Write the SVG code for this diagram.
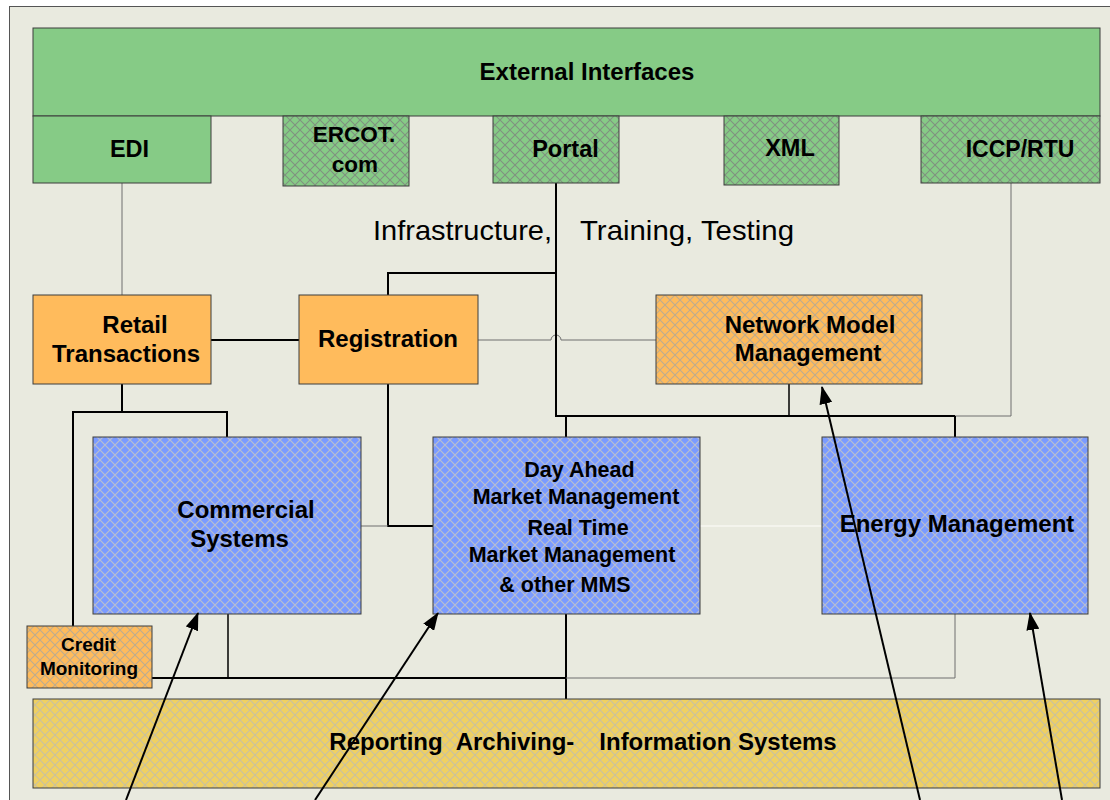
<svg xmlns="http://www.w3.org/2000/svg" width="1110" height="800" viewBox="0 0 1110 800">
<defs>
  <pattern id="hatchGreen" width="10" height="10" patternUnits="userSpaceOnUse">
    <rect width="10" height="10" fill="#86cb86"/>
    <path d="M0,0 L10,10 M10,0 L0,10" stroke="#7d7d7d" stroke-width="1.1" stroke-opacity="0.75"/>
  </pattern>
  <pattern id="hatchBlue" width="10" height="10" patternUnits="userSpaceOnUse">
    <rect width="10" height="10" fill="#7b9bff"/>
    <path d="M0,0 L10,10 M10,0 L0,10" stroke="#bfc2c9" stroke-width="1.2" stroke-opacity="0.9"/>
  </pattern>
  <pattern id="hatchOrange" width="10" height="10" patternUnits="userSpaceOnUse">
    <rect width="10" height="10" fill="#ffbb5c"/>
    <path d="M0,0 L10,10 M10,0 L0,10" stroke="#b0a898" stroke-width="1.1" stroke-opacity="0.85"/>
  </pattern>
  <pattern id="hatchYellow" width="10" height="10" patternUnits="userSpaceOnUse">
    <rect width="10" height="10" fill="#efd062"/>
    <path d="M0,0 L10,10 M10,0 L0,10" stroke="#c4bfa8" stroke-width="1.1" stroke-opacity="0.9"/>
  </pattern>
  <marker id="arrow" markerWidth="18" markerHeight="13" refX="17" refY="6.5" orient="auto" markerUnits="userSpaceOnUse">
    <path d="M0,0 L18,6.5 L0,13 Z" fill="#000"/>
  </marker>
</defs>
<style>
  .box { stroke: #3c3c3c; stroke-width: 1; }
  .green { fill: #86cb86; }
  .lbl { font-family: "Liberation Sans", Arial, sans-serif; font-weight: bold; fill: #000; text-anchor: middle; }
  .plain { font-family: "Liberation Sans", Arial, sans-serif; fill: #000; font-size: 28.5px; }
  .thick { stroke: #000; stroke-width: 2; fill: none; }
  .mid { stroke: #000; stroke-width: 1.5; fill: none; }
  .thin { stroke: #6e6e6e; stroke-width: 1; fill: none; }
  .pointer { stroke: #000; stroke-width: 2; fill: none; marker-end: url(#arrow); }
</style>
<rect x="0" y="0" width="1110" height="800" fill="#ffffff"/>
<rect x="9.5" y="6.5" width="1110" height="810" fill="#e9eadf" stroke="#555" stroke-width="1"/>

<g id="connectors">
  <path class="thin" d="M122,183 V295"/>
  <path class="thick" d="M211,340 H299"/>
  <path class="thin" d="M478,340 H551 A5,5 0 0 1 561,340 H656"/>
  <path class="thick" d="M388,295 V273 H556"/>
  <path class="thick" d="M556,183 V416 H955"/>
  <path class="thin" d="M955,416 H1011 V183"/>
  <path class="mid" d="M789,384 V416"/>
  <path class="thick" d="M566,416 V437"/>
  <path class="thick" d="M955,416 V437"/>
  <path class="thick" d="M122,384 V412"/>
  <path class="thick" d="M73,626 V412 H227 V437"/>
  <path class="thick" d="M388,384 V526 H433"/>
  <path class="thin" d="M361,526 H388"/>
  <path d="M700,526 H822" stroke="#f7f7f2" stroke-width="1.5" fill="none"/>
  <path class="mid" d="M228,614 V678"/>
  <path class="thick" d="M152,678 H566"/>
  <path class="thick" d="M566,614 V699"/>
  <path class="thin" d="M566,678 H955 V614"/>
</g>

<g id="external-interfaces">
  <rect class="box green" x="33" y="28" width="1067" height="88"/>
  <text class="lbl" x="587" y="80" font-size="24">External Interfaces</text>
</g>
<g id="edi">
  <rect class="box green" x="33" y="116" width="178" height="67"/>
  <text class="lbl" x="129.5" y="157" font-size="23.5">EDI</text>
</g>
<g id="ercot">
  <rect class="box" fill="url(#hatchGreen)" x="283" y="116" width="126" height="70"/>
  <text class="lbl" x="354" y="142" font-size="22.5">ERCOT.</text>
  <text class="lbl" x="355" y="172" font-size="22.5">com</text>
</g>
<g id="portal">
  <rect class="box" fill="url(#hatchGreen)" x="493" y="116" width="126" height="67"/>
  <text class="lbl" x="565.5" y="157" font-size="23.5">Portal</text>
</g>
<g id="xml">
  <rect class="box" fill="url(#hatchGreen)" x="724" y="116" width="115" height="69"/>
  <text class="lbl" x="790" y="156" font-size="23.5">XML</text>
</g>
<g id="iccp-rtu">
  <rect class="box" fill="url(#hatchGreen)" x="921" y="116" width="179" height="67"/>
  <text class="lbl" x="1020" y="157" font-size="23">ICCP/RTU</text>
</g>

<g id="infrastructure-label">
  <text class="plain" x="373" y="240" textLength="179" lengthAdjust="spacingAndGlyphs">Infrastructure,</text>
  <text class="plain" x="580" y="240" textLength="214" lengthAdjust="spacingAndGlyphs">Training, Testing</text>
</g>

<g id="retail-transactions">
  <rect class="box" fill="#ffbb5c" x="33" y="295" width="178" height="89"/>
  <text class="lbl" x="135" y="333" font-size="24">Retail</text>
  <text class="lbl" x="126" y="362" font-size="24">Transactions</text>
</g>
<g id="registration">
  <rect class="box" fill="#ffbb5c" x="299" y="295" width="179" height="89"/>
  <text class="lbl" x="388" y="347" font-size="24">Registration</text>
</g>
<g id="network-model-management">
  <rect class="box" fill="url(#hatchOrange)" x="656" y="295" width="266" height="89"/>
  <text class="lbl" x="810" y="333" font-size="24">Network Model</text>
  <text class="lbl" x="808" y="361" font-size="24">Management</text>
</g>

<g id="commercial-systems">
  <rect class="box" fill="url(#hatchBlue)" x="93" y="437" width="268" height="177"/>
  <text class="lbl" x="246" y="518" font-size="24">Commercial</text>
  <text class="lbl" x="239.5" y="547" font-size="24">Systems</text>
</g>
<g id="market-management">
  <rect class="box" fill="url(#hatchBlue)" x="433" y="437" width="267" height="177"/>
  <text class="lbl" x="579.5" y="477" font-size="21.5">Day Ahead</text>
  <text class="lbl" x="576" y="504" font-size="21.5">Market Management</text>
  <text class="lbl" x="578" y="535" font-size="21.5">Real Time</text>
  <text class="lbl" x="572" y="562" font-size="21.5">Market Management</text>
  <text class="lbl" x="565" y="592" font-size="21.5">&amp; other MMS</text>
</g>
<g id="energy-management">
  <rect class="box" fill="url(#hatchBlue)" x="822" y="437" width="266" height="177"/>
  <text class="lbl" x="957" y="532" font-size="24">Energy Management</text>
</g>

<g id="credit-monitoring">
  <rect class="box" fill="url(#hatchOrange)" x="27" y="626" width="125" height="62"/>
  <text class="lbl" x="88.5" y="651" font-size="19">Credit</text>
  <text class="lbl" x="89" y="675" font-size="19">Monitoring</text>
</g>

<g id="reporting">
  <rect class="box" fill="url(#hatchYellow)" x="33" y="699" width="1067" height="89"/>
  <text class="lbl" x="386" y="750" font-size="24">Reporting</text>
  <text class="lbl" x="515" y="750" font-size="24">Archiving-</text>
  <text class="lbl" x="718" y="750" font-size="24">Information Systems</text>
</g>

<g id="pointers">
  <path class="pointer" d="M126,800 L198,613"/>
  <path class="pointer" d="M315,800 L438,613"/>
  <path class="pointer" d="M920,800 L822,387"/>
  <path class="pointer" d="M1062,800 L1030,613"/>
</g>
</svg>
